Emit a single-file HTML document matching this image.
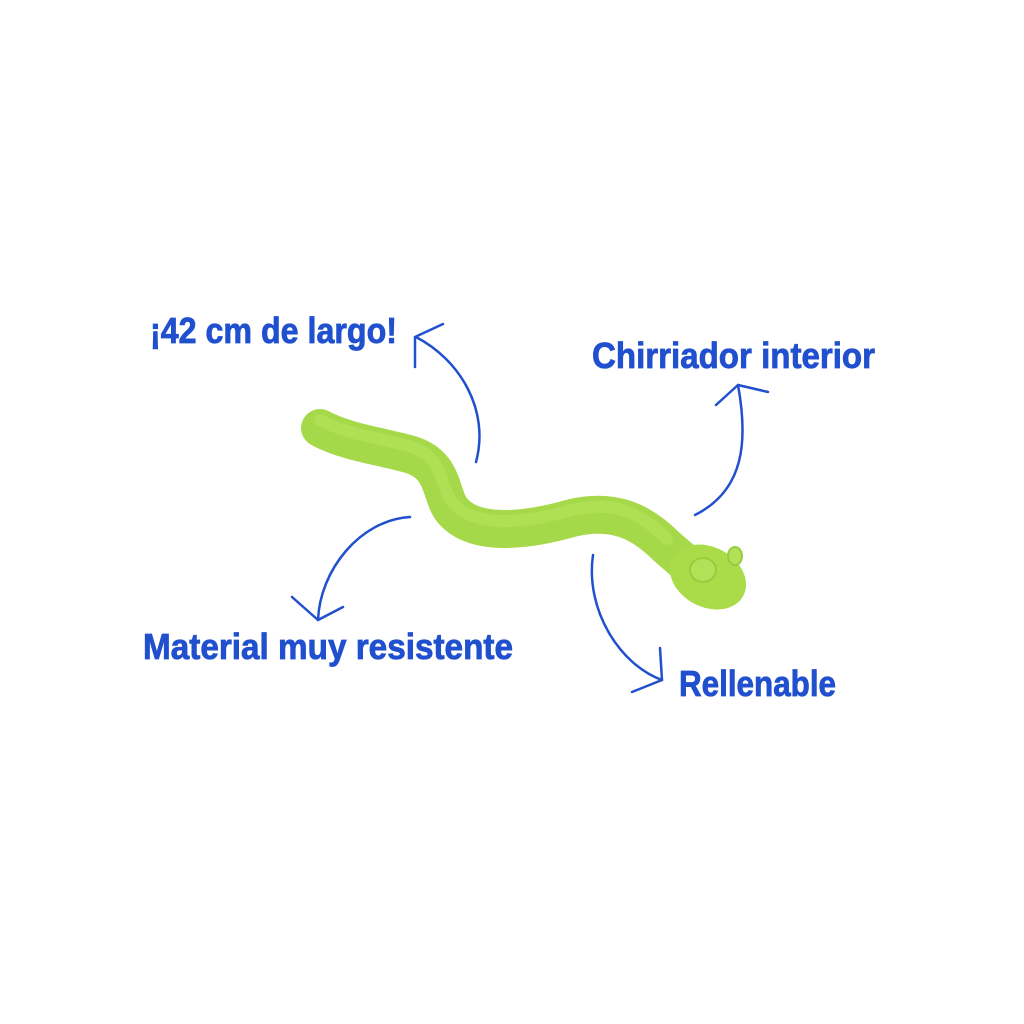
<!DOCTYPE html>
<html><head><meta charset="utf-8"><style>
html,body{margin:0;padding:0;background:#fff;}
svg{display:block}
text{font-family:"Liberation Sans Narrow","Liberation Sans",sans-serif;font-weight:bold;fill:#2150cf;font-size:36px;stroke:#2150cf;stroke-width:0.8}
</style></head><body>
<svg width="1024" height="1024" viewBox="0 0 1024 1024" xmlns="http://www.w3.org/2000/svg">
<rect width="1024" height="1024" fill="#fff"/>
<!-- snake body -->
<path d="M320,428 C345,442 385,447 412,455 C445,466 440,495 452,510 C475,538 530,530 572,518 C615,508 642,522 667,547 L690,567" fill="none" stroke="#a6d94a" stroke-width="38" stroke-linecap="round"/>
<path d="M320,428 C345,442 385,447 412,455 C445,466 440,495 452,510 C475,538 530,530 572,518 C615,508 642,522 667,547" fill="none" stroke="#b8e55e" stroke-width="12" stroke-linecap="round" opacity="0.5" transform="translate(0,-8)"/>
<ellipse cx="708" cy="577" rx="40" ry="30" transform="rotate(28 708 577)" fill="#a9dc48"/>
<ellipse cx="703" cy="570" rx="13" ry="12" fill="#b2e057" stroke="#98cc3e" stroke-width="2"/>
<ellipse cx="735" cy="556" rx="7" ry="9" fill="#b2e057" stroke="#98cc3e" stroke-width="2"/>
<!-- arrows -->
<g fill="none" stroke="#2150cf" stroke-width="2.5" stroke-linecap="round">
<path d="M476,462 C490,410 460,360 416,337"/>
<path d="M415,337 L443,324 M415,337 L415,367"/>
<path d="M695,515 C745,490 748,440 738,385"/>
<path d="M738,385 L716,405 M738,385 L768,392"/>
<path d="M410,517 C360,520 320,570 318,620"/>
<path d="M318,620 L292,597 M318,620 L343,607"/>
<path d="M593,555 C585,610 620,665 662,680"/>
<path d="M662,680 L660,648 M662,680 L632,692"/>
</g>
<text x="150" y="343" textLength="247" lengthAdjust="spacingAndGlyphs">¡42 cm de largo!</text>
<text x="592" y="368" textLength="283" lengthAdjust="spacingAndGlyphs">Chirriador interior</text>
<text x="143" y="659" textLength="370" lengthAdjust="spacingAndGlyphs">Material muy resistente</text>
<text x="679" y="696" textLength="157" lengthAdjust="spacingAndGlyphs">Rellenable</text>
</svg>
</body></html>
